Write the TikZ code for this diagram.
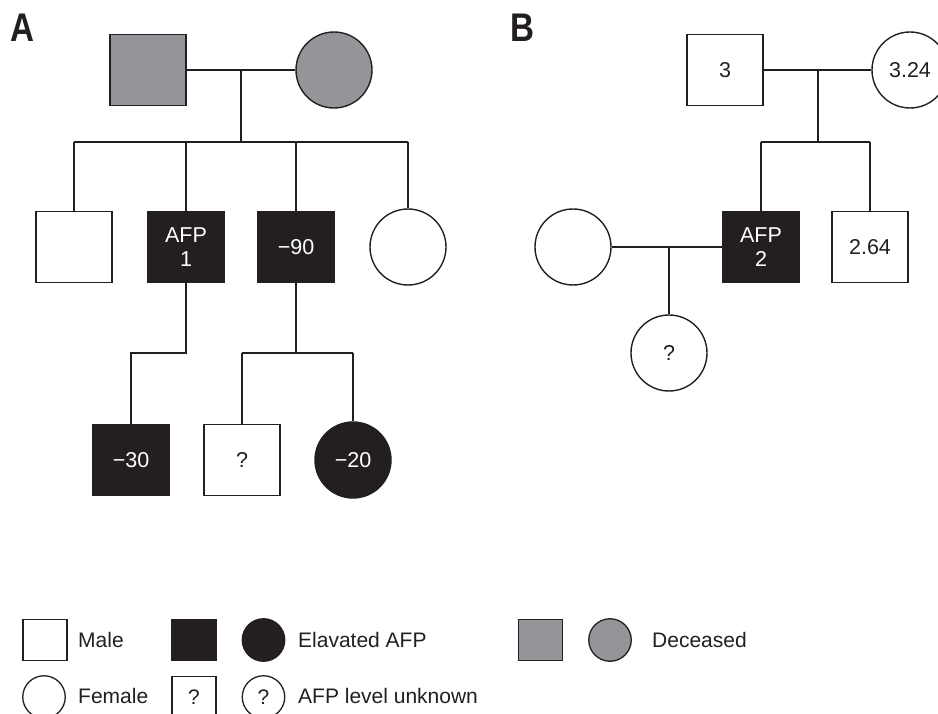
\documentclass[tikz,border=0pt]{standalone}
\usepackage{fontspec}
\setmainfont{Liberation Sans}
\definecolor{ink}{HTML}{231F20}
\definecolor{greyd}{HTML}{939598}
\begin{document}
\begin{tikzpicture}[x=1pt,y=-1pt,
  conn/.style={draw=ink, line width=1.4pt},
  male/.style={rectangle, draw=ink, line width=1.4pt, minimum width=76pt, minimum height=71pt, inner sep=0pt, font=\fontsize{21.5}{23.5}\selectfont, align=center, text=ink},
  female/.style={circle, draw=ink, line width=1.4pt, minimum size=76pt, inner sep=0pt, font=\fontsize{21.5}{23.5}\selectfont, align=center, text=ink},
  aff/.style={fill=ink, text=white},
  dec/.style={fill=greyd},
  lmale/.style={rectangle, draw=ink, line width=1.3pt, minimum width=44pt, minimum height=41pt, inner sep=0pt, font=\fontsize{21}{23}\selectfont, text=ink},
  lfemale/.style={circle, draw=ink, line width=1.3pt, minimum size=42.5pt, inner sep=0pt, font=\fontsize{21}{23}\selectfont, text=ink},
  ltext/.style={anchor=west, inner sep=0pt, font=\fontsize{21}{23}\selectfont, text=ink},
  panel/.style={inner sep=0pt, font=\fontsize{40}{40}\bfseries\selectfont, text=ink}
]
\useasboundingbox (0,0) rectangle (938,714);
\clip (0,0) rectangle (938,714);

% ---------- Panel A ----------
\node[panel] (lA) at (22.7,27.5) {\scalebox{0.83}[1]{A}};
\node[male, dec] (dm) at (148,70) {};
\node[female, dec] (df) at (334,70) {};
\coordinate (mA) at (241,70);
\coordinate (sA) at (241,142);
\node[male] (c1) at (74,247) {};
\node[male, aff] (c2) at (186,247) {AFP\\1};
\node[male, aff] (c3) at (296,247) {−90};
\node[female] (c4) at (408,247) {};
\draw[conn] (dm) -- (df);
\draw[conn] (mA) -- (sA);
\draw[conn] (c1.north |- sA) -- (c4.north |- sA);
\draw[conn] (c1.north |- sA) -- (c1.north);
\draw[conn] (c2.north |- sA) -- (c2.north);
\draw[conn] (c3.north |- sA) -- (c3.north);
\draw[conn] (c4.north |- sA) -- (c4.north);

\node[male, aff] (g1) at (131,460) {−30};
\node[male] (g2) at (242,460) {?};
\node[female, aff] (g3) at (353,460) {−20};
\coordinate (j1) at (186,353);
\coordinate (j2) at (296,353);
\draw[conn] (c2.south) -- (j1) -| (g1.north);
\draw[conn] (c3.south) -- (j2);
\draw[conn] (g2.north |- j2) -- (g3.north |- j2);
\draw[conn] (g2.north |- j2) -- (g2.north);
\draw[conn] (g3.north |- j2) -- (g3.north);

% ---------- Panel B ----------
\node[panel] (lB) at (522.5,27.5) {\scalebox{0.83}[1]{B}};
\node[male] (p1) at (725,70) {3};
\node[female] (p2) at (910,70) {3.24};
\coordinate (mB) at (818,70);
\coordinate (sB) at (818,142);
\node[male, aff] (b1) at (761,247) {AFP\\2};
\node[male] (b2) at (870,247) {2.64};
\node[female] (bw) at (573,247) {};
\node[female] (bq) at (669,353) {?};
\coordinate (mB2) at (669,247);
\draw[conn] (p1) -- (p2);
\draw[conn] (mB) -- (sB);
\draw[conn] (b1.north |- sB) -- (b2.north |- sB);
\draw[conn] (b1.north |- sB) -- (b1.north);
\draw[conn] (b2.north |- sB) -- (b2.north);
\draw[conn] (bw) -- (b1);
\draw[conn] (mB2) -- (bq.north);

% ---------- Legend ----------
\node[lmale] (L1) at (45,640) {};
\node[ltext] (T1) at (78,640) {Male};
\node[lmale, fill=ink] (L2) at (194,640) {};
\node[lfemale, fill=ink] (L3) at (263.5,640) {};
\node[ltext] (T2) at (298,640) {Elavated AFP};
\node[lmale, dec] (L4) at (540.5,640) {};
\node[lfemale, dec] (L5) at (610,640) {};
\node[ltext] (T3) at (652,640) {Deceased};

\node[lfemale] (L6) at (44,697) {};
\node[ltext] (T4) at (78,696) {Female};
\node[lmale] (L7) at (194,697) {?};
\node[lfemale] (L8) at (263.5,697) {?};
\node[ltext] (T5) at (298,696) {AFP level unknown};
\end{tikzpicture}
\end{document}
